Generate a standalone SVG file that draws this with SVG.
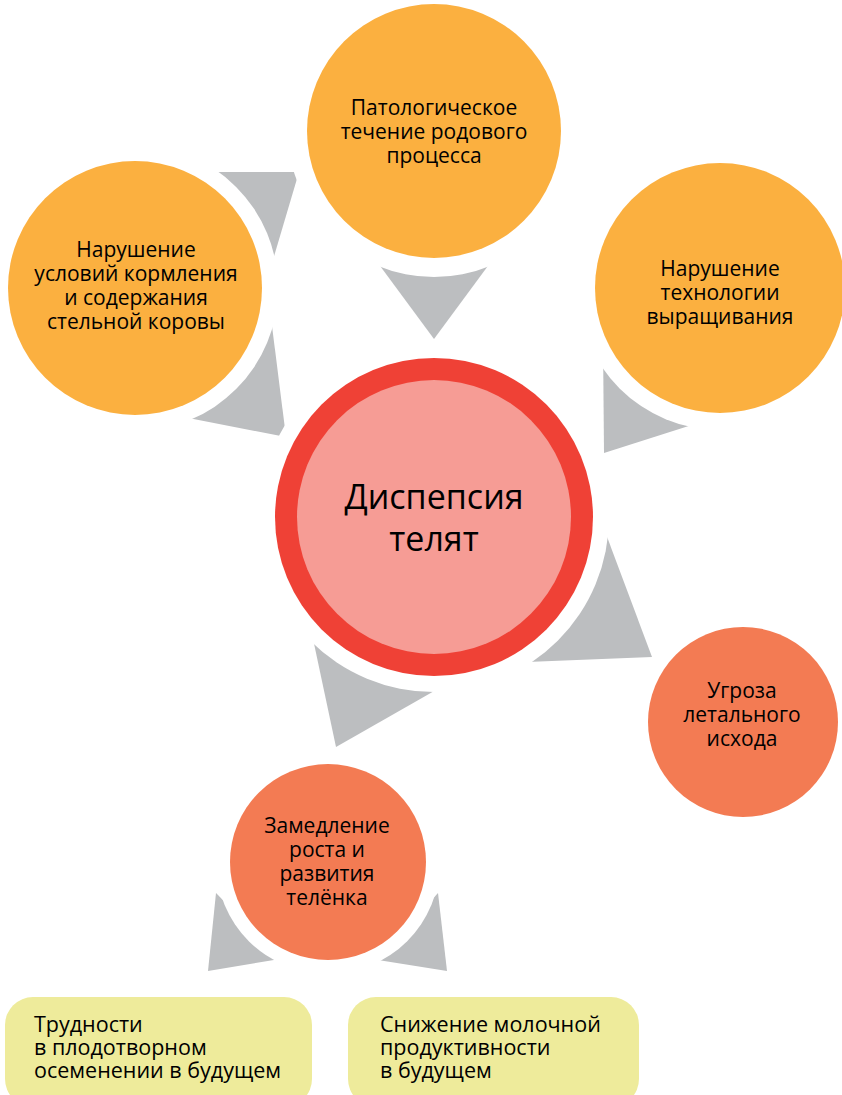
<svg xmlns="http://www.w3.org/2000/svg" width="842" height="1095" viewBox="0 0 842 1095">
<style>
.tri{fill:#BCBEC0}
.ring{fill:#FFFFFF}
.or{fill:#FBB040}
.co{fill:#F37B53}
.t{font-family:"Open Sans","Noto Sans","Liberation Sans",sans-serif;font-size:21px;fill:#000;text-anchor:middle}
.big{font-size:34px}
.box{fill:#EEEB9B}
.bt{font-family:"Open Sans","Noto Sans","Liberation Sans",sans-serif;font-size:21.5px;fill:#000}
</style>
<rect width="842" height="1095" fill="#FFFFFF"/>
<g id="connectors">
<polygon class="tri" points="205,172 299,172 267,280"/>
<polygon class="tri" points="372,255 496,255 434,339"/>
<polygon class="tri" points="271,318 168,414 286,437"/>
<polygon class="tri" points="603,340 604,453 720,416"/>
<polygon class="tri" points="597,510 652,657 500,663"/>
<polygon class="tri" points="309,620 336,747 450,682"/>
<polygon class="tri" points="216,893 208,971 280,959"/>
<polygon class="tri" points="438,893 447,971 378,960"/>
</g>
<g id="node-top">
<circle class="ring" cx="434" cy="131" r="146"/>
<circle class="or" cx="434" cy="131" r="127"/>
<text class="t"><tspan x="434" y="115">Патологическое</tspan><tspan x="434" y="139">течение родового</tspan><tspan x="434" y="163">процесса</tspan></text>
</g>
<g id="node-left">
<circle class="ring" cx="135" cy="288" r="143"/>
<circle class="or" cx="135" cy="288" r="127"/>
<text class="t"><tspan x="136" y="257">Нарушение</tspan><tspan x="136" y="281">условий кормления</tspan><tspan x="136" y="305">и содержания</tspan><tspan x="136" y="329">стельной коровы</tspan></text>
</g>
<g id="node-right">
<circle class="ring" cx="720" cy="288" r="142"/>
<circle class="or" cx="720" cy="288" r="125"/>
<text class="t"><tspan x="720" y="276">Нарушение</tspan><tspan x="720" y="300">технологии</tspan><tspan x="720" y="324">выращивания</tspan></text>
</g>
<g id="node-center">
<circle class="ring" cx="434" cy="517" r="175"/>
<circle cx="434" cy="517" r="159" fill="#EF4136"/>
<circle cx="434" cy="517" r="137" fill="#F69C95"/>
<text class="t big"><tspan x="434" y="509">Диспепсия</tspan><tspan x="434" y="551">телят</tspan></text>
</g>
<g id="node-threat">
<circle class="ring" cx="743" cy="722" r="111"/>
<circle class="co" cx="743" cy="722" r="95"/>
<text class="t"><tspan x="742" y="698">Угроза</tspan><tspan x="742" y="722">летального</tspan><tspan x="742" y="746">исхода</tspan></text>
</g>
<g id="node-growth">
<circle class="ring" cx="328" cy="862" r="112"/>
<circle class="co" cx="328" cy="862" r="98"/>
<text class="t"><tspan x="327" y="833">Замедление</tspan><tspan x="327" y="857">роста и</tspan><tspan x="327" y="881">развития</tspan><tspan x="327" y="905">телёнка</tspan></text>
</g>
<g id="node-box1">
<rect class="box" x="5" y="997" width="307" height="110" rx="28"/>
<text class="bt"><tspan x="34" y="1032">Трудности</tspan><tspan x="34" y="1055">в плодотворном</tspan><tspan x="34" y="1078">осеменении в будущем</tspan></text>
</g>
<g id="node-box2">
<rect class="box" x="348" y="997" width="291" height="110" rx="28"/>
<text class="bt"><tspan x="380" y="1032">Снижение молочной</tspan><tspan x="380" y="1055">продуктивности</tspan><tspan x="380" y="1078">в будущем</tspan></text>
</g>
</svg>
